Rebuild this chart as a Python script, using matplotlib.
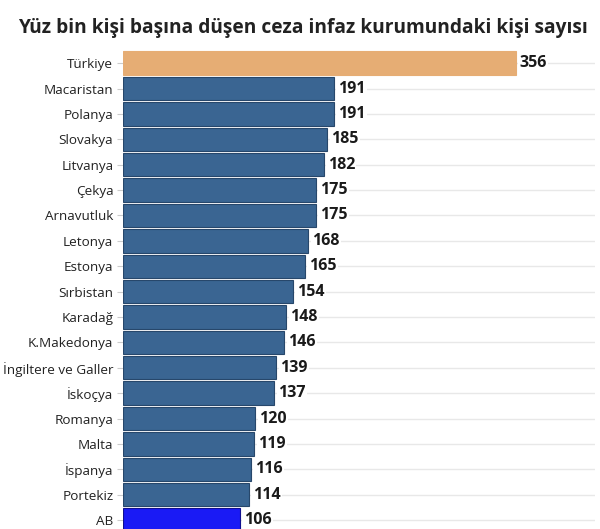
import matplotlib
matplotlib.use("Agg")
from matplotlib import pyplot as plt

plt.rcParams['font.family'] = ['Open Sans', 'DejaVu Sans']

countries = ["Türkiye", "Macaristan", "Polanya", "Slovakya", "Litvanya", "Çekya",
             "Arnavutluk", "Letonya", "Estonya", "Sırbistan", "Karadağ", "K.Makedonya",
             "İngiltere ve Galler", "İskoçya", "Romanya", "Malta", "İspanya", "Portekiz", "AB"]
values = [356, 191, 191, 185, 182, 175, 175, 168, 165, 154, 148, 146, 139, 137, 120, 119, 116, 114, 106]

c_tr = "#e6ad74"
c_main = "#3a6592"
c_ab = "#1a1af5"
colors = [c_tr if c == "Türkiye" else c_ab if c == "AB" else c_main for c in countries]
edges = ["#e6ad74" if c == "Türkiye" else "#101090" if c == "AB" else "#27476b" for c in countries]

fig = plt.figure(figsize=(6, 5.29), dpi=100)
ax = fig.add_axes([0.205, 0.0, 0.787, 0.909])

ypos = list(range(len(countries)))
ax.barh(ypos, values, height=0.92, color=colors, edgecolor=edges, linewidth=0.8, zorder=3)

for y, v in zip(ypos, values):
    ax.text(v + 3.5, y, str(v), va='center', ha='left', fontsize=11.5,
            fontweight='bold', color='#1a1a1a', zorder=4,
            bbox=dict(facecolor='white', edgecolor='none', pad=1))

ax.set_yticks(ypos)
ax.set_yticklabels(countries, fontsize=9.7, color='#222222')
ax.set_ylim(18.35, -0.59)
ax.set_xlim(0, 428)
ax.set_xticks([])
ax.tick_params(axis='y', length=4, color='#cccccc', pad=3)
ax.grid(axis='y', color='#e8e8e8', linewidth=1, zorder=0)
for s in ax.spines.values():
    s.set_visible(False)

fig.text(0.505, 0.948, "Yüz bin kişi başına düşen ceza infaz kurumundaki kişi sayısı",
         ha='center', va='center', fontsize=13.8, fontweight='bold', color='#222222')

fig.savefig("out.png", dpi=100)
